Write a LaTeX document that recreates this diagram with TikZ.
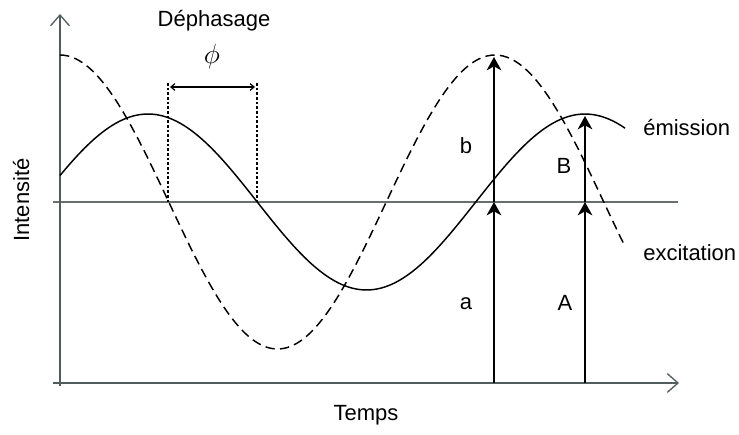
\documentclass[tikz,border=0pt]{standalone}
\usepackage{fontspec}
\setmainfont{Liberation Sans}
\usetikzlibrary{arrows.meta}
\definecolor{axisgray}{RGB}{80,94,94}
\definecolor{midgray}{RGB}{105,110,110}
\begin{document}
\begin{tikzpicture}[x=0.75pt, y=-0.75pt,
    lbl/.style={inner sep=0pt, font=\fontsize{16.5}{19}\selectfont},
    axis/.style={axisgray, line width=1.5pt, -{Straight Barb[length=8pt,width=14pt,line width=1pt]}},
    emis/.style={line width=1.1pt},
    exci/.style={line width=1.1pt, dash pattern=on 7pt off 4pt},
    vec/.style={line width=1.5pt, -{Stealth[length=10pt,width=11pt,inset=3pt]}},
    phasel/.style={line width=0.8pt, dash pattern=on 2pt off 1.5pt}]
        \useasboundingbox (0,0) rectangle (739,435);
        % axes
        \coordinate (O) at (60,386);
        \coordinate (ytop) at (60,14);
        \coordinate (xst) at (53,383);
        \coordinate (xend) at (679,383);
        \coordinate (m0) at (53,202);
        \coordinate (m1) at (678,202);
        \draw[midgray, line width=0.8pt] (m0)--(m1);
        \draw[axis] (O)--(ytop);
        \draw[axis] (xst)--(xend);
        % curves
        \draw[exci] plot[domain=60:625, samples=140, smooth] (\x, {202-147*cos(0.827586*(\x-60))});
        \draw[emis] plot[domain=60:625, samples=140, smooth] (\x, {202-88*cos(0.823799*(\x-148))});
        % phase shift
        \coordinate (p1) at (168,83);
        \coordinate (p1b) at (168,202);
        \coordinate (p2) at (257,83);
        \coordinate (p2b) at (257,202);
        \coordinate (q1) at (170,87);
        \coordinate (q2) at (255,87);
        \draw[phasel] (p1)--(p1b);
        \draw[phasel] (p2)--(p2b);
        \draw[line width=0.9pt, {Straight Barb[length=3pt,width=5pt]}-{Straight Barb[length=3pt,width=5pt]}] (q1)--(q2);
        % vectors
        \coordinate (a0) at (494,383);
        \coordinate (a1) at (494,202);
        \coordinate (b1) at (494,57);
        \coordinate (A0) at (585,383);
        \coordinate (A1) at (585,202);
        \coordinate (B1) at (585,116);
        \draw[vec] (a0)--(a1);
        \draw[vec] (a1)--(b1);
        \draw[vec] (A0)--(A1);
        \draw[vec] (A1)--(B1);
        % labels
        \node[lbl, anchor=base] (deph) at (214,27) {Déphasage};
        \node[inner sep=0pt, font=\fontsize{22}{24}\selectfont] (phi) at (212,57) {$\phi$};
        \node[lbl, anchor=base] (lb) at (466,153) {b};
        \node[lbl, anchor=base] (lB) at (564,173) {B};
        \node[lbl, anchor=base] (la) at (466,309) {a};
        \node[lbl, anchor=base] (lA) at (565,310) {A};
        \node[lbl, anchor=base west] (lem) at (643,135) {émission};
        \node[lbl, anchor=base west] (lex) at (643,260) {excitation};
        \node[lbl, anchor=base] (lt) at (366,420) {Temps};
        \node[lbl, rotate=90, anchor=base] (li) at (29,200) {Intensité};
    \end{tikzpicture}
\end{document}
